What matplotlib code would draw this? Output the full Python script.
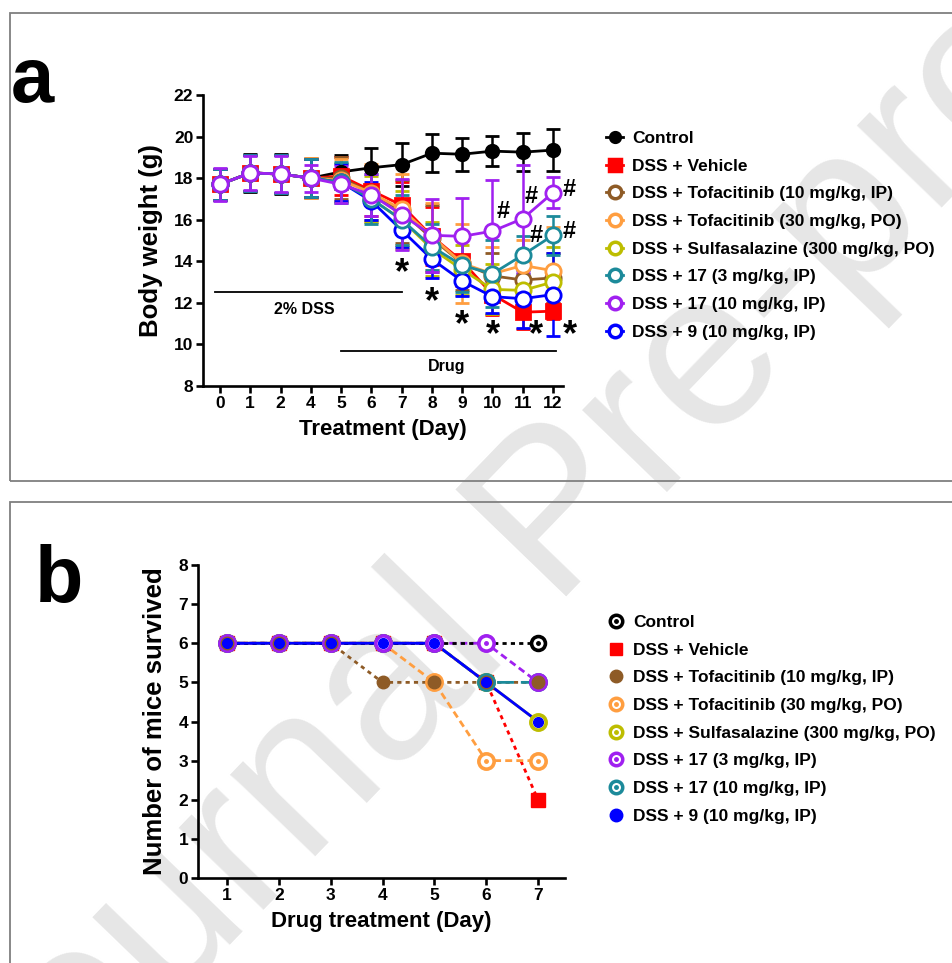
import matplotlib
matplotlib.use("Agg")
import matplotlib.pyplot as plt
from matplotlib import font_manager
from matplotlib.lines import Line2D
from matplotlib.patches import Rectangle

''' DATA '''

# panel a: body weight (g), mean and error per group
days_a = ['0', '1', '2', '4', '5', '6', '7', '8', '9', '10', '11', '12']

control = [17.7, 18.25, 18.2, 18.0, 18.3, 18.5, 18.65, 19.2, 19.15, 19.3, 19.25, 19.35]
control_err = [0.75, 0.9, 0.95, 0.9, 0.8, 0.95, 1.05, 0.92, 0.8, 0.72, 0.9, 1.0]
vehicle = [17.7, 18.25, 18.2, 18.0, 18.1, 17.4, 16.7, 15.2, 14.0, 12.4, 11.55, 11.6]
vehicle_err = [0.75, 0.85, 0.9, 0.9, 0.9, 1.2, 1.1, 1.4, 1.2, 1.0, 0.8, 0.4]
tofa10 = [17.7, 18.25, 18.2, 18.0, 18.0, 17.3, 16.4, 15.1, 13.9, 13.3, 13.1, 13.2]
tofa10_err = [0.75, 0.85, 0.9, 0.95, 1.0, 1.3, 1.5, 1.6, 1.3, 1.1, 0.9, 1.2]
tofa30 = [17.7, 18.25, 18.2, 18.0, 17.9, 17.3, 16.5, 15.2, 13.9, 13.4, 13.8, 13.55]
tofa30_err = [0.75, 0.85, 0.9, 0.95, 1.0, 1.4, 1.7, 1.6, 1.9, 1.3, 1.2, 2.1]
sulfa = [17.7, 18.25, 18.2, 18.0, 17.8, 17.0, 16.0, 14.6, 13.6, 12.65, 12.6, 13.0]
sulfa_err = [0.75, 0.85, 0.9, 0.9, 0.95, 1.1, 1.4, 1.3, 1.2, 1.2, 1.3, 1.7]
c17_3 = [17.7, 18.25, 18.2, 18.0, 17.8, 17.0, 16.0, 14.7, 13.8, 13.4, 14.3, 15.25]
c17_3_err = [0.75, 0.85, 0.9, 0.9, 1.0, 1.2, 1.2, 1.1, 1.3, 1.6, 0.9, 0.95]
c17_10 = [17.7, 18.25, 18.2, 18.0, 17.7, 17.2, 16.25, 15.25, 15.2, 15.45, 16.05, 17.3]
c17_10_err = [0.8, 0.8, 0.85, 0.65, 0.9, 1.0, 1.7, 1.75, 1.85, 2.45, 2.6, 0.75]
c9_10 = [17.7, 18.25, 18.2, 18.0, 17.8, 16.9, 15.5, 14.1, 13.05, 12.3, 12.2, 12.4]
c9_10_err = [0.75, 0.85, 0.9, 0.9, 0.9, 0.9, 0.8, 0.9, 0.7, 0.8, 1.4, 2.0]

# significance marks (x as day index, y in g)
star_x = [6, 7, 8, 9, 10.45, 11.55]
star_y = [13.87, 12.46, 11.37, 10.85, 10.85, 10.85]
hash_x = [9.34, 10.29, 10.45, 11.55, 11.55]
hash_y = [16.39, 17.1, 15.26, 17.43, 15.43]

# panel b: number of mice survived
days_b = [1, 2, 3, 4, 5, 6, 7]
surv_control = [6, 6, 6, 6, 6, 6, 6]
surv_vehicle = [6, 6, 6, 6, 6, 5, 2]
surv_tofa10 = [6, 6, 6, 5, 5, 5, 5]
surv_tofa30 = [6, 6, 6, 6, 5, 3, 3]
surv_sulfa = [6, 6, 6, 6, 6, 5, 4]
surv_17_3 = [6, 6, 6, 6, 6, 6, 5]
surv_17_10 = [6, 6, 6, 6, 6, 5, 5]
surv_9_10 = [6, 6, 6, 6, 6, 5, 4]

labels = ['Control', 'DSS + Vehicle', 'DSS + Tofacitinib (10 mg/kg, IP)',
          'DSS + Tofacitinib (30 mg/kg, PO)', 'DSS + Sulfasalazine (300 mg/kg, PO)',
          'DSS + 17 (3 mg/kg, IP)', 'DSS + 17 (10 mg/kg, IP)', 'DSS + 9 (10 mg/kg, IP)']

''' STYLE '''

BLACK = '#000000'
RED = '#FF0000'
BROWN = '#8E5B26'
ORANGE = '#FF9E40'
OLIVE = '#BDBD00'
TEAL = '#1C8A9A'
PURPLE = '#A020F0'
BLUE = '#0000FF'

names = {f.name for f in font_manager.fontManager.ttflist}
narrow = 'Liberation Sans Narrow' if 'Liberation Sans Narrow' in names else 'Liberation Sans'
plt.rcParams['font.family'] = ['Liberation Sans', 'DejaVu Sans']
plt.rcParams['font.weight'] = 'bold'

fig = plt.figure(figsize=(9.52, 9.63), dpi=100)

# watermark
fig.text(560 / 952, 1 - 520 / 963, 'Journal Pre-proof', fontsize=160, color='#e6e6e6',
         fontweight='normal', rotation=46, rotation_mode='anchor', ha='center', va='center', zorder=-5)

# panel frames
for y0, h in [(1 - 481 / 963, (481 - 13) / 963), (-0.05, 1 - 502 / 963 + 0.05)]:
    fig.patches.append(Rectangle((10 / 952, y0), 1.1, h, transform=fig.transFigure,
                                 fill=False, edgecolor='#7f7f7f', linewidth=1.3, zorder=-4))


def style_axes(ax):
    ax.set_facecolor('none')
    for s in ['top', 'right']:
        ax.spines[s].set_visible(False)
    for s in ['left', 'bottom']:
        ax.spines[s].set_linewidth(1.9)
    ax.tick_params(width=1.9, length=5, pad=2)
    for lab in ax.get_xticklabels() + ax.get_yticklabels():
        lab.set_fontfamily(narrow)
        lab.set_fontweight('bold')
        lab.set_fontsize(12.5)


''' PANEL A '''

ax1 = fig.add_axes([203 / 952, 1 - 386 / 963, 360 / 952, 291 / 963])
x = list(range(len(days_a)))

groups_a = [
    (control, control_err, BLACK, 'o', BLACK, 9),
    (vehicle, vehicle_err, RED, 's', RED, 10),
    (tofa10, tofa10_err, BROWN, 'o', 'white', 11),
    (tofa30, tofa30_err, ORANGE, 'o', 'white', 11),
    (sulfa, sulfa_err, OLIVE, 'o', 'white', 11),
    (c9_10, c9_10_err, BLUE, 'o', 'white', 11),
    (c17_3, c17_3_err, TEAL, 'o', 'white', 11),
    (c17_10, c17_10_err, PURPLE, 'o', 'white', 11),
]
legend_order = [0, 1, 2, 3, 4, 6, 7, 5]

for vals, err, col, mk, fc, ms in groups_a:
    ax1.errorbar(x, vals, yerr=err, color=col, marker=mk, markerfacecolor=fc, markeredgecolor=col,
                 markersize=ms, markeredgewidth=2, linewidth=2, elinewidth=1.8, capsize=5, capthick=1.8)

for sx, sy in zip(star_x, star_y):
    ax1.text(sx, sy - 0.45, '*', fontsize=26, ha='center', va='center')
for hx, hy in zip(hash_x, hash_y):
    ax1.text(hx, hy, '#', fontsize=17, ha='center', va='center')

# treatment periods
ax1.plot([-0.15, 6.0], [12.5, 12.5], color='black', linewidth=1.3)
ax1.text(2.8, 11.7, '2% DSS', fontsize=11.5, ha='center', va='center')
ax1.plot([4.0, 11.1], [9.7, 9.7], color='black', linewidth=1.3)
ax1.text(7.5, 8.93, 'Drug', fontsize=11.5, ha='center', va='center')

ax1.set_xlim(-0.56, 11.33)
ax1.set_ylim(8, 22)
ax1.set_xticks(x)
ax1.set_xticklabels(days_a)
ax1.set_yticks(range(8, 23, 2))
ax1.set_xlabel('Treatment (Day)', fontsize=16, fontweight='bold', labelpad=6)
ax1.set_ylabel('Body weight (g)', fontsize=18.5, fontweight='bold', labelpad=8)
style_axes(ax1)

handles_a = []
for i in legend_order:
    vals, err, col, mk, fc, ms = groups_a[i]
    handles_a.append(Line2D([], [], color=col, marker=mk, markerfacecolor=fc, markeredgecolor=col,
                            markersize=ms - 2, markeredgewidth=2.5, linewidth=2))
ax1.legend(handles_a, labels, loc='upper left', bbox_to_anchor=(606 / 952, 1 - 131 / 963),
           bbox_transform=fig.transFigure, frameon=False, fontsize=12.5, handlelength=1.0,
           handletextpad=0.5, labelspacing=0.72, borderpad=0, borderaxespad=0)

''' PANEL B '''

ax2 = fig.add_axes([198 / 952, 1 - 878 / 963, 367 / 952, 313 / 963])

# (values, colour, linestyle, marker kind, size, line z, marker z)
groups_b = [
    (surv_control, BLACK, (0, (1.5, 1.5)), 'ring', 10, 2.6, 3.0),
    (surv_vehicle, RED, (0, (1.5, 1.5)), 's', 10, 2.1, 3.1),
    (surv_tofa10, BROWN, (0, (1.5, 1.5)), 'o', 9, 2.0, 3.7),
    (surv_tofa30, ORANGE, (0, (2.5, 1.5)), 'ring', 11, 2.2, 3.2),
    (surv_sulfa, OLIVE, '-', 'ring', 11, 2.3, 3.3),
    (surv_17_10, TEAL, (0, (6, 2.5)), 'ring', 11, 2.4, 3.4),
    (surv_17_3, PURPLE, (0, (2.5, 1.5)), 'ring', 11, 2.5, 3.5),
    (surv_9_10, BLUE, '-', 'o', 7, 2.7, 3.8),
]
handle_b = {}
for vals, col, ls, mk, ms, zl, zm in groups_b:
    ax2.plot(days_b, vals, color=col, linestyle=ls, linewidth=2, zorder=zl)
    if mk == 'ring':
        ax2.plot(days_b, vals, linestyle='none', marker='o', markerfacecolor='white',
                 markeredgecolor=col, markersize=ms, markeredgewidth=2.6, zorder=zm)
        ax2.plot(days_b, vals, linestyle='none', marker='o', color=col, markersize=2.5, zorder=zm)
        handle_b[col] = (Line2D([], [], linestyle='none', marker='o', markerfacecolor='white',
                                markeredgecolor=col, markersize=9, markeredgewidth=2.5),
                         Line2D([], [], linestyle='none', marker='o', color=col, markersize=2.5))
    else:
        ax2.plot(days_b, vals, linestyle='none', marker=mk, color=col, markersize=ms, zorder=zm)
        handle_b[col] = Line2D([], [], color=col, linestyle='none', marker=mk, markersize=9)

ax2.set_xlim(0.44, 7.52)
ax2.set_ylim(0, 8)
ax2.set_xticks(days_b)
ax2.set_yticks(range(0, 9))
ax2.set_xlabel('Drug treatment (Day)', fontsize=16, fontweight='bold', labelpad=6)
ax2.set_ylabel('Number of mice survived', fontsize=18.5, fontweight='bold', labelpad=8)
style_axes(ax2)

order_b = [BLACK, RED, BROWN, ORANGE, OLIVE, PURPLE, TEAL, BLUE]
ax2.legend([handle_b[c] for c in order_b], labels, loc='upper left',
           bbox_to_anchor=(607 / 952, 1 - 615 / 963), bbox_transform=fig.transFigure,
           frameon=False, fontsize=12.5, handlelength=1.0, handletextpad=0.5,
           labelspacing=0.72, borderpad=0, borderaxespad=0)

# panel letters
fig.text(32 / 952, 1 - 102 / 963, 'a', fontsize=56, fontweight='bold', family=narrow,
         ha='center', va='baseline')
fig.text(59 / 952, 1 - 602 / 963, 'b', fontsize=57, fontweight='bold', ha='center', va='baseline')

plt.savefig('out.png', dpi=100)
